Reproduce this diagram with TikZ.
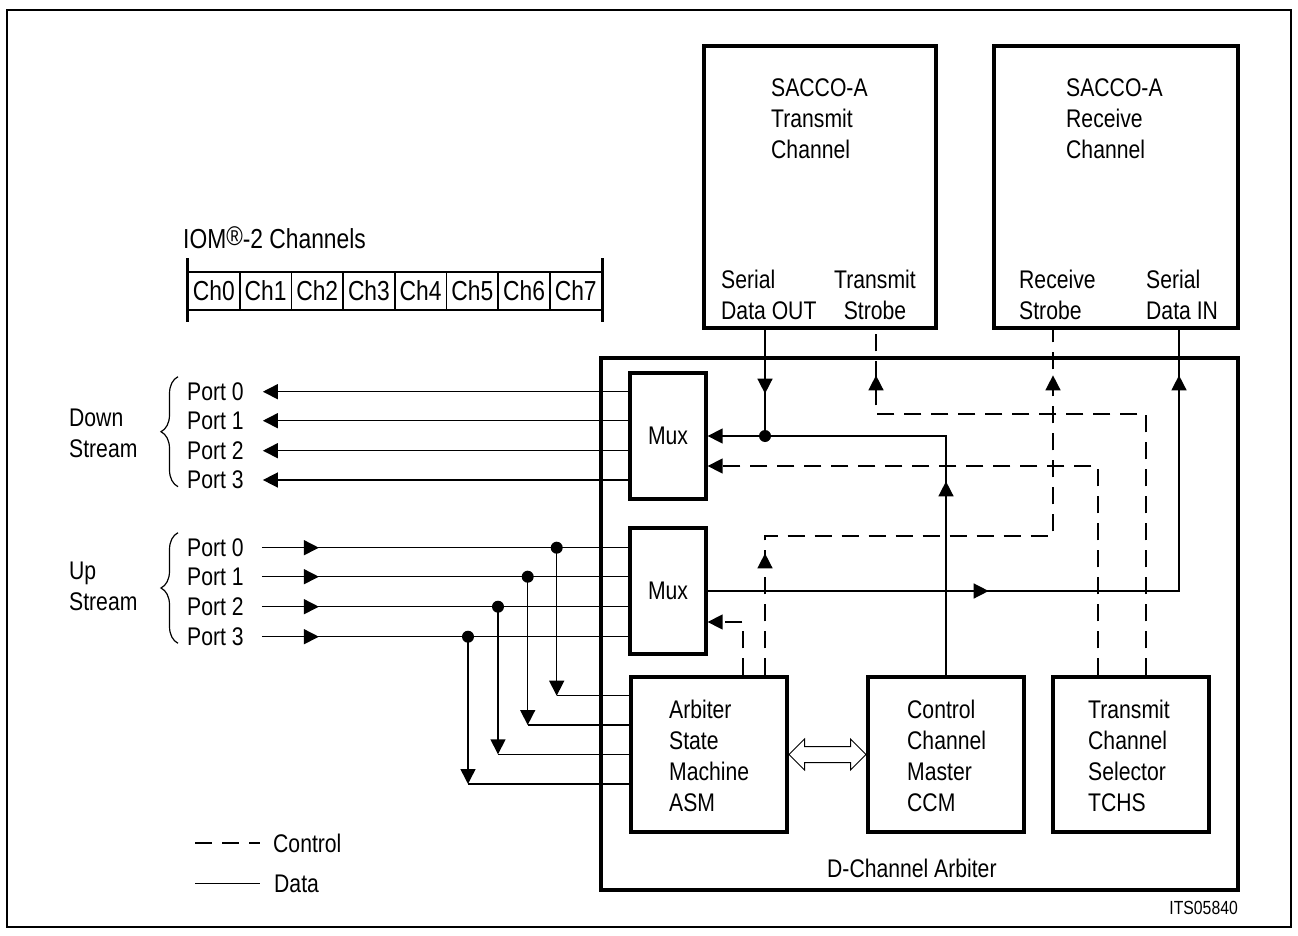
\documentclass[tikz,border=0pt]{standalone}
\usepackage{fontspec}
\setmainfont{Liberation Sans}[FakeStretch=0.83]
\usetikzlibrary{arrows.meta, positioning, calc, decorations.markings, decorations.pathreplacing, shapes.arrows}
\tikzset{
  blk/.style={draw, rectangle, line width=3.3pt},
  data/.style={line width=1.5pt},
  ctrl/.style={line width=1.5pt, dash pattern=on 17pt off 10pt},
  txt/.style={align=left, anchor=north west, execute at begin node=\strut},
  lbl/.style={anchor=west},
  cell/.style={draw, line width=1.7pt, minimum width=51.7pt, minimum height=38pt, font=\fontsize{27.5}{31}\selectfont},
  dot/.style={circle, fill, minimum size=12pt},
  tipat/.style={postaction={decorate}, decoration={markings, mark=at position #1 with {\arrow{>}}}},
  tiptwo/.style 2 args={postaction={decorate}, decoration={markings, mark=at position #1 with {\arrow{>}}, mark=at position #2 with {\arrow{>}}}},
  curly/.style={decorate, decoration={brace, amplitude=17pt}, line width=1.2pt},
}

\begin{document}
\begin{tikzpicture}[x=1pt, y=-1pt, >={Triangle[length=15pt,width=15pt]},
  every node/.style={inner sep=0pt, font=\fontsize{25.5}{31}\selectfont}]
  \useasboundingbox (0,0) rectangle (1298,936);
  \draw[line width=2.2pt] (7,10) rectangle (1291,927);

  % IOM-2 frame
  \node[anchor=base west, font=\fontsize{27.5}{31}\selectfont] (iom) at (183,248) {IOM{\fontsize{27}{27}\selectfont\raisebox{3pt}{\textregistered}}-2 Channels};
  \foreach \i in {0,...,7}
    \node[cell] (ch\i) at ({188+51.7*(\i+0.5)},291) {Ch\i};
  \draw[line width=3pt] (ch0.north west) ++(0,-13) -- ++(0,64);
  \draw[line width=3pt] (ch7.north east) ++(0,-13) -- ++(0,64);

  % blocks
  \node[blk, minimum width=232pt, minimum height=282pt] (txbox) at (820,187) {};
  \node[blk, minimum width=244pt, minimum height=282pt] (rxbox) at (1116,187) {};
  \node[blk, minimum width=637pt, minimum height=532pt] (arb) at (919.5,624) {};
  \node[blk, minimum width=76pt, minimum height=126pt] (muxA) at (668,436) {Mux};
  \node[blk, minimum width=76pt, minimum height=126pt] (muxB) at (668,591) {Mux};
  \node[blk, minimum width=156pt, minimum height=155pt] (asm) at (709,754.5) {};
  \node[blk, minimum width=156pt, minimum height=155pt] (ccm) at (946,754.5) {};
  \node[blk, minimum width=156pt, minimum height=155pt] (tchs) at (1131,754.5) {};

  \node[txt] (txttl) at (771,78.7) {SACCO-A\\Transmit\\Channel};
  \node[txt] (rxttl) at (1066,78.7) {SACCO-A\\Receive\\Channel};
  \node[txt] (sdout) at (721,270) {Serial\\Data OUT};
  \node[txt, align=center, anchor=north] (tstb) at (875,270) {Transmit\\Strobe};
  \node[txt] (rstb) at (1019,270) {Receive\\Strobe};
  \node[txt] (sdin) at (1146,270) {Serial\\Data IN};
  \node[txt] (asmtxt) at (669,699.7) {Arbiter\\State\\Machine\\ASM};
  \node[txt] (ccmtxt) at (907,699.7) {Control\\Channel\\Master\\CCM};
  \node[txt] (tchstxt) at (1088,699.7) {Transmit\\Channel\\Selector\\TCHS};
  \node[anchor=base west] (dca) at (827,877) {D-Channel Arbiter};
  \node[anchor=base east, font=\fontsize{19}{20}\selectfont] (its) at (1238,914) {ITS05840};

  % ports
  \node[txt] (dn) at (69,408.7) {Down\\Stream};
  \node[txt] (up) at (69,562) {Up\\Stream};
  \draw[curly] (178,486.7) -- (178,376.7);
  \draw[curly] (178,643.3) -- (178,532.7);
  \foreach \i/\yy in {0/391.7, 1/420.7, 2/450.7, 3/480} {
    \node[lbl] (pd\i) at (187,\yy) {Port \i};
    \draw[data, ->] (muxA.west |- pd\i) -- ([xshift=19pt]pd\i.east);
  }
  \foreach \i/\yy/\xd/\yr in {0/547.7/556.7/695.7, 1/576.7/527.7/725, 2/606.7/498/754.3, 3/636.7/468/784} {
    \node[lbl] (pu\i) at (187,\yy) {Port \i};
    \draw[data, tipat=57pt] ([xshift=18pt]pu\i.east) -- (muxB.west |- pu\i);
    \node[dot] (ju\i) at (\xd,\yy) {};
    \coordinate (cu\i) at (\xd,\yr);
    \draw[data, ->] (ju\i.center) -- (cu\i);
    \draw[data] (cu\i) -- (asm.west |- cu\i);
  }

  % data paths
  \coordinate (jout) at (765,436);
  \draw[data, tipat=64pt] (txbox.south -| jout) -- (jout);
  \draw[data, tipat=194pt, ->] (ccm.north) -- (ccm.north |- jout) -- (muxA.east);
  \node[dot] (jd) at (jout) {};
  \coordinate (kin) at (1179,591);
  \draw[data, tiptwo={281pt}{687pt}] (muxB.east) -- (kin) -- (rxbox.south -| kin);

  % control paths
  \coordinate (tcb) at (1146,414);
  \coordinate (tsb) at (876,414);
  \draw[ctrl, tipat=570pt] (tchs.north -| tcb) -- (tcb) -- (tsb) -- (txbox.south -| tsb);
  \coordinate (tca) at (1098,466);
  \draw[ctrl, ->] (tchs.north -| tca) -- (tca) -- (muxA.east |- tca);
  \coordinate (asb) at (765,536);
  \coordinate (rsb) at (1053,536);
  \draw[ctrl, tiptwo={122pt}{588pt}] (asm.north -| asb) -- (asb) -- (rsb) -- (rxbox.south -| rsb);
  \coordinate (amx) at (743,622);
  \draw[ctrl, ->] (asm.north -| amx) -- (amx) -- (muxB.east |- amx);

  \node[double arrow, draw, line width=1pt, minimum height=77pt, minimum width=30pt,
    double arrow head extend=7.5pt, inner ysep=7.5pt] (lnk) at ($(asm.east)!0.5!(ccm.west)$) {};

  % legend
  \node[anchor=base west] (lgc) at (273,852) {Control};
  \node[anchor=base west] (lgd) at (274,892) {Data};
  \draw[ctrl] ([xshift=-78pt]lgc.west) -- ([xshift=-13pt]lgc.west);
  \draw[data] ([xshift=-79pt]lgd.west) -- ([xshift=-14pt]lgd.west);
\end{tikzpicture}
\end{document}
